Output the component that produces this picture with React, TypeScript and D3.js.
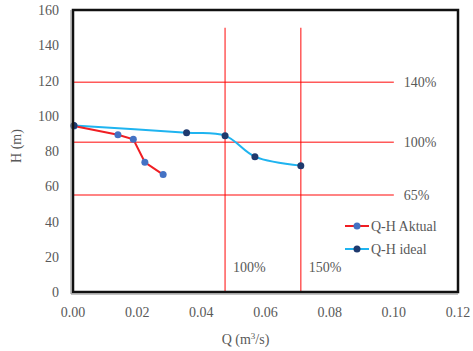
import React, { useRef, useEffect } from "react";
import * as d3 from "d3";

// Q (m3/s) and H (m)
const aktualQ = [0.0003, 0.014, 0.0188, 0.0224, 0.0281];
const aktualH = [94.2, 89.2, 86.6, 73.6, 66.6];
const idealQ = [0.0003, 0.0354, 0.0474, 0.0567, 0.071];
const idealH = [94.5, 90.4, 88.7, 76.8, 71.7];

const xTicks = [0, 0.02, 0.04, 0.06, 0.08, 0.1, 0.12];
const yTicks = [0, 20, 40, 60, 80, 100, 120, 140, 160];

// reference lines: head levels (H) and flow levels (Q)
const hLevels = [119, 85, 55];
const hLabels = ["140%", "100%", "65%"];
const qLevels = [0.0474, 0.071];
const qLabels = ["100%", "150%"];

const W = 473;
const H = 351;

const App = () => {
  const ref = useRef<SVGSVGElement>(null);

  useEffect(() => {
    const svg = d3.select(ref.current);
    svg.selectAll("*").remove();

    const margin = { top: 10, right: 15, bottom: 59, left: 73 };
    const width = W - margin.left - margin.right;
    const height = H - margin.top - margin.bottom;

    const x = d3.scaleLinear().domain([0, 0.12]).range([0, width]);
    const y = d3.scaleLinear().domain([0, 160]).range([height, 0]);

    const g = svg
      .append("g")
      .attr("transform", `translate(${margin.left},${margin.top})`);

    const font = "'Liberation Serif', 'Times New Roman', serif";
    const grey = "#595959";

    // tick labels
    g.selectAll(".ytick")
      .data(yTicks)
      .enter()
      .append("text")
      .attr("x", -14)
      .attr("y", (d) => y(d) + 5)
      .attr("text-anchor", "end")
      .attr("font-family", font)
      .attr("font-size", 14)
      .attr("fill", grey)
      .text((d) => d);

    g.selectAll(".xtick")
      .data(xTicks)
      .enter()
      .append("text")
      .attr("x", (d) => x(d))
      .attr("y", height + 25)
      .attr("text-anchor", "middle")
      .attr("font-family", font)
      .attr("font-size", 14)
      .attr("fill", grey)
      .text((d) => d.toFixed(2));

    // axis titles
    g.append("text")
      .attr("transform", "rotate(-90)")
      .attr("x", -height / 2 + 5)
      .attr("y", -52)
      .attr("text-anchor", "middle")
      .attr("font-family", font)
      .attr("font-size", 14)
      .attr("fill", grey)
      .text("H (m)");

    const qt = g
      .append("text")
      .attr("x", width / 2 - 20)
      .attr("y", height + 52)
      .attr("text-anchor", "middle")
      .attr("font-family", font)
      .attr("font-size", 14)
      .attr("fill", grey);
    qt.append("tspan").text("Q (m");
    qt.append("tspan").attr("font-size", 9).attr("dy", -5).text("3");
    qt.append("tspan").attr("dy", 5).text("/s)");

    // red reference lines
    const red = "rgba(255,0,0,0.65)";
    g.selectAll(".hline")
      .data(hLevels)
      .enter()
      .append("line")
      .attr("x1", x(0))
      .attr("x2", x(0.1))
      .attr("y1", (d) => y(d))
      .attr("y2", (d) => y(d))
      .attr("stroke", red)
      .attr("stroke-width", 1.5);

    g.selectAll(".vline")
      .data(qLevels)
      .enter()
      .append("line")
      .attr("x1", (d) => x(d))
      .attr("x2", (d) => x(d))
      .attr("y1", y(150))
      .attr("y2", y(0))
      .attr("stroke", red)
      .attr("stroke-width", 1.5);

    hLevels.forEach((v, i) => {
      g.append("text")
        .attr("x", x(0.1) + 10)
        .attr("y", y(v) + 5)
        .attr("font-family", font)
        .attr("font-size", 14)
        .attr("fill", grey)
        .text(hLabels[i]);
    });
    qLevels.forEach((v, i) => {
      g.append("text")
        .attr("x", x(v) + 8)
        .attr("y", y(14) + 5)
        .attr("font-family", font)
        .attr("font-size", 14)
        .attr("fill", grey)
        .text(qLabels[i]);
    });

    // series
    const aktual = aktualQ.map((q, i) => [q, aktualH[i]] as [number, number]);
    const ideal = idealQ.map((q, i) => [q, idealH[i]] as [number, number]);

    const straight = d3
      .line<[number, number]>()
      .x((d) => x(d[0]))
      .y((d) => y(d[1]));
    const smooth = d3
      .line<[number, number]>()
      .x((d) => x(d[0]))
      .y((d) => y(d[1]))
      .curve(d3.curveCatmullRom.alpha(0.5));

    g.append("path")
      .attr("d", smooth(ideal))
      .attr("fill", "none")
      .attr("stroke", "#1FB4F0")
      .attr("stroke-width", 2);
    g.append("path")
      .attr("d", straight(aktual))
      .attr("fill", "none")
      .attr("stroke", "#F01E23")
      .attr("stroke-width", 2);

    g.selectAll(".pa")
      .data(aktual)
      .enter()
      .append("circle")
      .attr("cx", (d) => x(d[0]))
      .attr("cy", (d) => y(d[1]))
      .attr("r", 3.5)
      .attr("fill", "#4472C4");
    g.selectAll(".pi")
      .data(ideal)
      .enter()
      .append("circle")
      .attr("cx", (d) => x(d[0]))
      .attr("cy", (d) => y(d[1]))
      .attr("r", 3.5)
      .attr("fill", "#1F3A6E");

    // frame
    g.append("rect")
      .attr("x", 0)
      .attr("y", 0)
      .attr("width", width)
      .attr("height", height)
      .attr("fill", "none")
      .attr("stroke", "#111")
      .attr("stroke-width", 2.5);
    g.append("path")
      .attr("d", `M-2,0V${height + 2}H${width}`)
      .attr("fill", "none")
      .attr("stroke", "#888")
      .attr("stroke-width", 1);

    // legend
    const legend = [
      { name: "Q-H Aktual", line: "#F01E23", dot: "#4472C4" },
      { name: "Q-H ideal", line: "#1FB4F0", dot: "#1F3A6E" },
    ];
    const lg = g.append("g").attr("transform", `translate(${272},${216})`);
    legend.forEach((s, i) => {
      lg.append("line")
        .attr("x1", 0)
        .attr("x2", 24)
        .attr("y1", i * 23)
        .attr("y2", i * 23)
        .attr("stroke", s.line)
        .attr("stroke-width", 2);
      lg.append("circle")
        .attr("cx", 12)
        .attr("cy", i * 23)
        .attr("r", 3.5)
        .attr("fill", s.dot);
      lg.append("text")
        .attr("x", 26)
        .attr("y", i * 23 + 5)
        .attr("font-family", font)
        .attr("font-size", 14)
        .attr("fill", grey)
        .text(s.name);
    });
  }, []);

  return (
    <svg
      ref={ref}
      width={W}
      height={H}
      style={{ display: "block", position: "absolute", left: 0, top: 0, background: "#fff" }}
    />
  );
};

export default App;
